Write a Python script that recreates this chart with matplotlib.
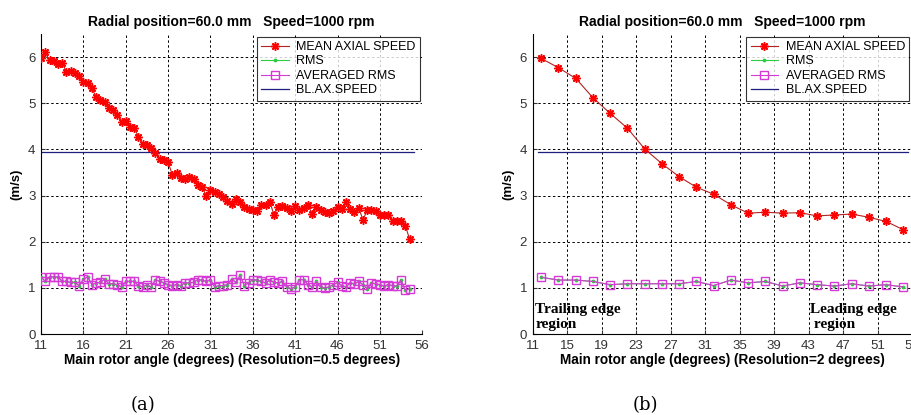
import numpy as np
import matplotlib.pyplot as plt

plt.rcParams['font.family'] = ['Liberation Sans', 'DejaVu Sans']

# ---- panel (a): resolution 0.5 degrees ----
angle_a = np.arange(11, 55, 0.5)
mean_a = [5.99, 6.10, 5.93, 5.91, 5.85, 5.88, 5.68, 5.69, 5.65, 5.59,
          5.47, 5.43, 5.32, 5.14, 5.07, 5.03, 4.89, 4.85, 4.75, 4.60,
          4.61, 4.48, 4.46, 4.28, 4.12, 4.10, 4.03, 3.92, 3.79, 3.78,
          3.72, 3.45, 3.50, 3.38, 3.36, 3.40, 3.35, 3.24, 3.18, 3.00,
          3.13, 3.08, 3.03, 2.96, 2.89, 2.82, 2.93, 2.87, 2.75, 2.71,
          2.68, 2.66, 2.79, 2.80, 2.87, 2.58, 2.75, 2.77, 2.73, 2.66,
          2.77, 2.68, 2.73, 2.79, 2.61, 2.75, 2.68, 2.64, 2.63, 2.66,
          2.75, 2.70, 2.87, 2.70, 2.64, 2.73, 2.48, 2.68, 2.68, 2.66,
          2.58, 2.57, 2.58, 2.44, 2.46, 2.44, 2.35, 2.06]
avg_rms_a = [1.24, 1.14, 1.24, 1.24, 1.24, 1.14, 1.14, 1.12, 1.12, 1.05,
             1.19, 1.24, 1.07, 1.11, 1.12, 1.19, 1.09, 1.09, 1.07, 1.02,
             1.14, 1.14, 1.14, 1.05, 1.02, 1.07, 1.02, 1.18, 1.14, 1.11,
             1.07, 1.05, 1.07, 1.05, 1.11, 1.11, 1.12, 1.18, 1.17, 1.14,
             1.18, 1.02, 1.05, 1.05, 1.07, 1.19, 1.12, 1.27, 1.05, 1.11,
             1.18, 1.17, 1.14, 1.11, 1.17, 1.12, 1.11, 1.14, 1.02, 0.98,
             1.02, 1.18, 1.18, 1.07, 1.02, 1.14, 1.02, 1.00, 1.02, 1.07,
             1.12, 1.05, 1.02, 1.11, 1.09, 1.14, 1.07, 0.98, 1.11, 1.09,
             1.07, 1.04, 1.07, 1.05, 1.04, 1.17, 0.95, 0.98]
rms_a = list(avg_rms_a)

# ---- panel (b): resolution 2 degrees ----
angle_b = np.arange(12, 55, 2)
mean_b = [5.97, 5.77, 5.54, 5.12, 4.78, 4.46, 4.01, 3.69, 3.41, 3.18, 3.03,
          2.80, 2.62, 2.64, 2.62, 2.63, 2.56, 2.58, 2.60, 2.53, 2.44, 2.26]
avg_rms_b = [1.23, 1.17, 1.17, 1.14, 1.07, 1.09, 1.09, 1.09, 1.09, 1.14, 1.05,
             1.17, 1.11, 1.14, 1.04, 1.11, 1.07, 1.04, 1.09, 1.04, 1.07, 1.02]
rms_b = list(avg_rms_b)

bl_speed = 3.95
title = 'Radial position=60.0 mm   Speed=1000 rpm'

fig = plt.figure(figsize=(9.12, 4.15), dpi=100)
ax_a = fig.add_axes([0.045, 0.195, 0.418, 0.723])
ax_b = fig.add_axes([0.584, 0.195, 0.416, 0.723])


def draw(ax, x, mean, rms, avg, xticks, xlim, xlabel):
    ax.plot(x, mean, color='#b22222', lw=0.8, marker=(8, 2, 0), ms=6, mew=1.1,
            mec='red', label='MEAN AXIAL SPEED', zorder=4)
    ax.plot(x, rms, color='#2ecc40', lw=0.8, marker='.', ms=3.5,
            label='RMS', zorder=3)
    ax.plot(x, avg, color='#d63ad6', lw=0.8, marker='s', ms=5.5, mfc='none',
            mec='#d63ad6', label='AVERAGED RMS', zorder=3)
    ax.plot([x[0] - 0.4, x[-1] + 0.5], [bl_speed, bl_speed], color='#1f1f80',
            lw=0.9, label='BL.AX.SPEED', zorder=2)
    ax.set_xlim(*xlim)
    ax.set_ylim(0, 6.5)
    ax.set_xticks(xticks)
    ax.set_yticks(range(7))
    ax.grid(True, color='black', linestyle=(0, (2.5, 2.5)), lw=0.7)
    ax.spines['top'].set_visible(False)
    ax.spines['right'].set_visible(False)
    ax.tick_params(direction='in', length=3, labelsize=9.5, colors='#333333')
    ax.tick_params(axis='x', pad=4)
    ax.tick_params(axis='y', pad=4)
    ax.set_title(title, fontsize=10, fontweight='bold', pad=6)
    ax.set_xlabel(xlabel, fontsize=9.8, fontweight='bold', labelpad=1)
    ax.set_ylabel('(m/s)', fontsize=9.5, fontweight='bold', labelpad=4)
    leg = ax.legend(loc='upper right', fontsize=9, frameon=True, fancybox=False,
                    borderaxespad=0.2, handlelength=2.2, labelspacing=0.2,
                    borderpad=0.35, handletextpad=0.6)
    leg.get_frame().set_edgecolor('black')
    leg.get_frame().set_linewidth(0.8)


draw(ax_a, angle_a, mean_a, rms_a, avg_rms_a, range(11, 57, 5), (11, 56),
     'Main rotor angle (degrees) (Resolution=0.5 degrees)')
draw(ax_b, angle_b, mean_b, rms_b, avg_rms_b, range(11, 56, 4), (11, 55),
     'Main rotor angle (degrees) (Resolution=2 degrees)')

ax_b.text(11.3, 0.37, 'Trailing edge\nregion', fontsize=11, fontweight='bold',
          family=['Liberation Serif'], va='center', linespacing=1.25)
ax_b.text(43.2, 0.37, 'Leading edge\n region', fontsize=11, fontweight='bold',
          family=['Liberation Serif'], va='center', linespacing=1.25)

fig.text(143 / 912, 1 - 405 / 415, '(a)', fontsize=13, family=['DejaVu Serif'],
         ha='center', va='center')
fig.text(645 / 912, 1 - 405 / 415, '(b)', fontsize=13, family=['DejaVu Serif'],
         ha='center', va='center')

fig.savefig('out.png', dpi=100)
